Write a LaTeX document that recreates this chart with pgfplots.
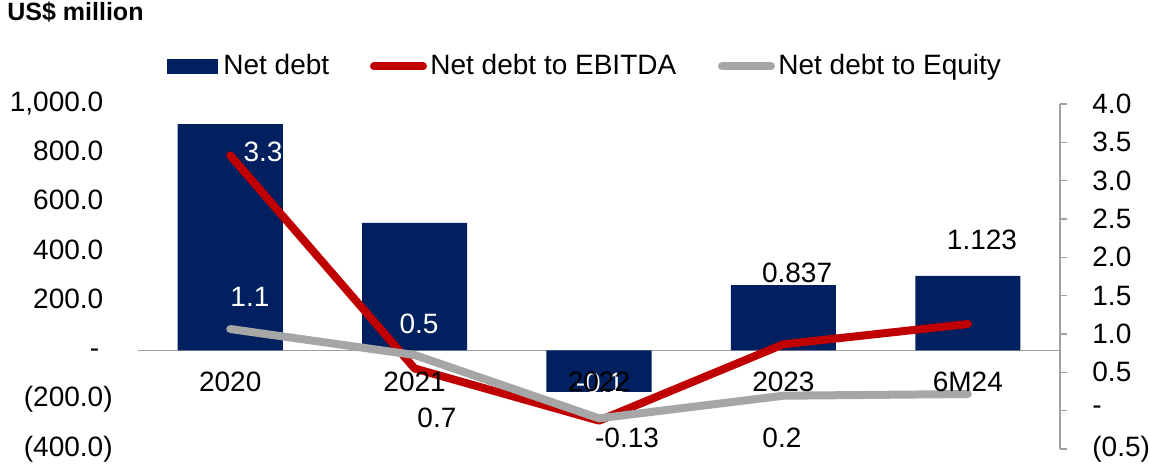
\documentclass[border=0pt]{standalone}
\usepackage{fontspec}
\setmainfont{Liberation Sans}
\usepackage{pgfplots}
\pgfplotsset{compat=1.18}
\definecolor{navy}{RGB}{0,32,96}
\definecolor{debtred}{RGB}{192,0,0}
\definecolor{eqgray}{RGB}{166,166,166}
\definecolor{axgray}{RGB}{160,160,160}
\newcommand{\lbl}{\fontsize{14}{16.8}\selectfont}

\begin{document}
\begin{tikzpicture}
\useasboundingbox (0,0) rectangle (575pt,236pt);

% left axis: net debt bars (US$ million)
\begin{axis}[
  at={(69pt,11.5pt)}, anchor=south west, scale only axis,
  width=461pt, height=172.5pt,
  xmin=-0.5, xmax=4.5, ymin=-400, ymax=1000,
  axis x line*=middle, axis y line*=left,
  y axis line style={draw=none},
  x axis line style={draw=axgray, line width=0.8pt},
  major tick length=0pt,
  xtick=\empty,
  ytick={-400,-200,0,200,400,600,800,1000},
  yticklabels={(400.0),(200.0),{-\hspace{2pt}\phantom{)}},{200.0\phantom{)}},{400.0\phantom{)}},{600.0\phantom{)}},{800.0\phantom{)}},{1,000.0\phantom{)}}},
  yticklabel style={anchor=east, inner sep=0pt, xshift=-12.5pt, font=\lbl},
  clip=false,
]
\addplot[ybar, bar width=0.57, fill=navy, draw=none] coordinates {
  (0,918) (1,518) (2,-168) (3,265) (4,303)};
% white label on the 2022 bar (the category label is drawn over it later)
\node[white, font=\lbl, inner sep=0pt] at (axis cs:2.005,-132) {-0.1};
\end{axis}

% right axis: ratios
\begin{axis}[
  at={(69pt,11.5pt)}, anchor=south west, scale only axis,
  width=461pt, height=172.5pt,
  xmin=-0.5, xmax=4.5, ymin=-0.5, ymax=4,
  axis x line=none, axis y line*=right,
  y axis line style={draw=axgray, line width=0.6pt},
  tick align=outside, major tick length=3.5pt,
  ytick style={draw=axgray, line width=0.6pt},
  ytick={-0.5,0,0.5,1,1.5,2,2.5,3,3.5,4},
  yticklabels={(0.5),-,0.5,1.0,1.5,2.0,2.5,3.0,3.5,4.0},
  yticklabel style={anchor=west, inner sep=0pt, xshift=12.5pt, font=\lbl},
  clip=false,
]
\addplot[debtred, line width=4pt, line cap=round, line join=round] coordinates {
  (0,3.33) (1,0.55) (2,-0.13) (3,0.866) (4,1.13)};
\addplot[eqgray, line width=4pt, line cap=round, line join=round] coordinates {
  (0,1.065) (1,0.726) (2,-0.10) (3,0.195) (4,0.217)};
% data labels
\node[white, font=\lbl, inner sep=0pt] at (axis cs:0.178,3.374) {3.3};
\node[white, font=\lbl, inner sep=0pt] at (axis cs:0.107,1.483) {1.1};
\node[white, font=\lbl, inner sep=0pt] at (axis cs:1.024,1.131) {0.5};
\node[black, font=\lbl, inner sep=0pt] at (axis cs:1.121,-0.096) {0.7};
\node[black, font=\lbl, inner sep=0pt] at (axis cs:2.152,-0.357) {-0.13};
\node[black, font=\lbl, inner sep=0pt] at (axis cs:2.992,-0.357) {0.2};
\node[black, font=\lbl, inner sep=0pt] at (axis cs:3.074,1.796) {0.837};
\node[black, font=\lbl, inner sep=0pt] at (axis cs:4.077,2.226) {1.123};
\end{axis}

% category labels, drawn last so they sit over bars and lines
\begin{axis}[
  at={(69pt,11.5pt)}, anchor=south west, scale only axis,
  width=461pt, height=172.5pt,
  xmin=-0.5, xmax=4.5, ymin=-0.5, ymax=4,
  axis x line*=bottom, axis y line=none,
  x axis line style={draw=none},
  xtick={0,1,2,3,4}, xticklabels={2020,2021,2022,2023,6M24},
  xtick style={draw=none}, major tick length=0pt,
  xticklabel style={anchor=center, yshift=33.5pt, font=\lbl},
]
\end{axis}

% title
\node[anchor=base west, inner sep=0pt, font=\bfseries\fontsize{12.5}{15}\selectfont] at (3.5pt,225.6pt) {US\$ million};

% legend
\fill[navy] (83.5pt,199pt) rectangle (109pt,206.5pt);
\node[anchor=base west, inner sep=0pt, font=\lbl] at (111.5pt,198.5pt) {Net debt};
\draw[debtred, line width=4pt, line cap=round] (187pt,202.75pt) -- (211.5pt,202.75pt);
\node[anchor=base west, inner sep=0pt, font=\lbl] at (215pt,198.5pt) {Net debt to EBITDA};
\draw[eqgray, line width=4pt, line cap=round] (361pt,202.75pt) -- (385.5pt,202.75pt);
\node[anchor=base west, inner sep=0pt, font=\lbl] at (389pt,198.5pt) {Net debt to Equity};
\end{tikzpicture}
\end{document}
